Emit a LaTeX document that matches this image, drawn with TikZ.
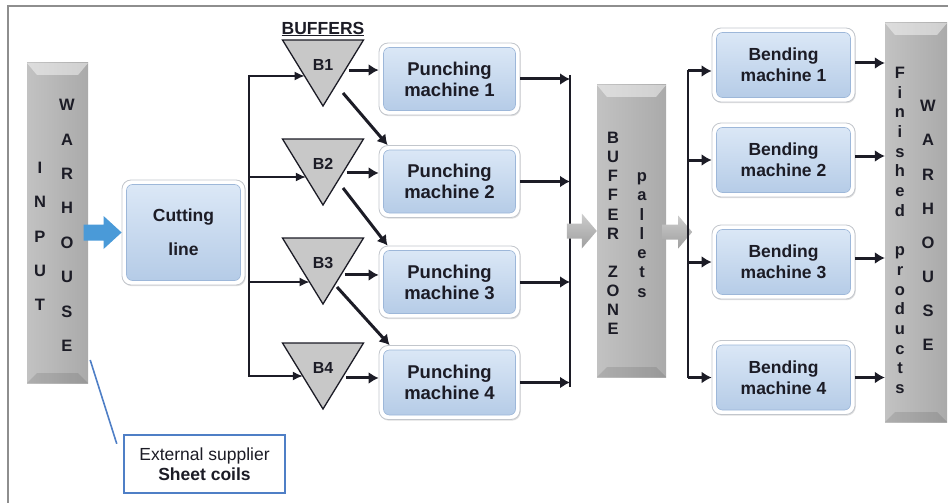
\documentclass[tikz,border=0pt]{standalone}
\usepackage{fontspec}
\setmainfont{Liberation Sans}
\usetikzlibrary{arrows.meta,calc,shadows}

\definecolor{ink}{HTML}{1C1C26}
\definecolor{boxtop}{HTML}{DDE9F7}
\definecolor{boxbot}{HTML}{B3CAE6}
\definecolor{boxedge}{HTML}{9DB7D9}
\definecolor{boxrim}{HTML}{C2C6CC}
\definecolor{flowblue}{HTML}{4A9AD8}
\definecolor{supblue}{HTML}{4F7FC6}
\definecolor{framegray}{HTML}{8E8E8E}
\definecolor{colleft}{HTML}{C2C2C2}
\definecolor{colmid}{HTML}{DCDCDC}
\definecolor{colright}{HTML}{AAAAAA}
\definecolor{trigray}{HTML}{C8C8C8}

\tikzset{
  frameline/.style={draw=framegray, line width=1.6pt},
  machine/.style={rectangle, rounded corners=9pt, draw=boxrim, line width=0.8pt,
    fill=white, inner sep=0pt,
    drop shadow={opacity=0.25, shadow xshift=0.8pt, shadow yshift=-1.2pt},
    path picture={
      \shade[rounded corners=6pt, top color=boxtop, bottom color=boxbot]
        ([shift={(4.5pt,-4.5pt)}]path picture bounding box.north west) rectangle
        ([shift={(-4.5pt,4.5pt)}]path picture bounding box.south east);
      \draw[boxedge, line width=0.6pt, rounded corners=6pt]
        ([shift={(4.5pt,-4.5pt)}]path picture bounding box.north west) rectangle
        ([shift={(-4.5pt,4.5pt)}]path picture bounding box.south east);
    },
    font=\fontsize{17.5pt}{21pt}\selectfont\bfseries, text=ink, align=center},
  punch/.style={machine, font=\fontsize{18.5pt}{21pt}\selectfont\bfseries},
  column/.style={rectangle, inner sep=0pt, left color=colleft, middle color=colmid,
    right color=colright},
  bevtop/.style={fill=white, fill opacity=0.45},
  bevbot/.style={fill=black, fill opacity=0.10},
  colletters/.style={font=\fontsize{16.5pt}{#1pt}\selectfont\bfseries, text=ink,
    align=center, inner sep=0pt},
  buffertri/.style={fill=trigray, draw=ink, line width=1.3pt, line join=miter},
  trilabel/.style={font=\fontsize{16pt}{18pt}\selectfont\bfseries, text=ink, inner sep=0pt},
  feed/.style={draw=ink, line width=1.4pt, -{Latex[length=10pt,width=9pt]}},
  transfer/.style={draw=ink, line width=3pt, -{Latex[length=10pt,width=12pt]}},
  busline/.style={draw=ink, line width=1.4pt},
  blockgray/.style={top color=gray!40, bottom color=gray!75},
  supbox/.style={rectangle, draw=supblue, line width=2.5pt, fill=white, inner sep=0pt,
    font=\fontsize{17.5pt}{20pt}\selectfont, text=ink, align=center},
  supline/.style={draw=supblue, line width=1.6pt}
}

\begin{document}
\begin{tikzpicture}[x=1pt,y=-1pt]
\useasboundingbox (0,0) rectangle (948,503);

% page frame (top and left rules)
\draw[frameline] (948,6) -- (8,6) -- (8,503);

% ---------- warehouse / buffer columns ----------
\node[column, minimum width=61pt, minimum height=320pt] (inw) at (57.5,223) {};
\node[column, minimum width=69pt, minimum height=292pt] (bz) at (631.5,231) {};
\node[column, minimum width=62pt, minimum height=399pt] (fin) at (916,222.5) {};
\foreach \c in {inw,bz,fin}{
  \fill[bevtop] (\c.north west) -- (\c.north east) -- ([shift={(-10pt,-12pt)}]\c.north east)
    -- ([shift={(10pt,-12pt)}]\c.north west) -- cycle;
  \fill[bevbot] (\c.south west) -- (\c.south east) -- ([shift={(-10pt,10pt)}]\c.south east)
    -- ([shift={(10pt,10pt)}]\c.south west) -- cycle;
}
\node[colletters=34.25] (inwA) at (40,236.5) {I\\N\\P\\U\\T};
\node[colletters=34.4] (inwB) at (67,225.5) {W\\A\\R\\H\\O\\U\\S\\E};
\node[colletters=19.1] (bzA) at (613,233.5) {B\\U\\F\\F\\E\\R\\[19.1pt]Z\\O\\N\\E};
\node[colletters=19.3] (bzB) at (642,235) {p\\a\\l\\l\\e\\t\\s};
\node[colletters=19.7] (finA) at (900,230.5) {F\\i\\n\\i\\s\\h\\e\\d\\[19.7pt]p\\r\\o\\d\\u\\c\\t\\s};
\node[colletters=34.1] (finB) at (928,225.5) {W\\A\\R\\H\\O\\U\\S\\E};

% ---------- machines ----------
\node[machine, minimum width=123pt, minimum height=105pt] (cut) at (183.5,232.5) {Cutting\\[13pt]line};

\node[punch, minimum width=141pt, minimum height=72pt] (P1) at (449.5,79) {Punching\\machine 1};
\node[punch, minimum width=141pt, minimum height=72pt] (P2) at (449.5,181.5) {Punching\\machine 2};
\node[punch, minimum width=141pt, minimum height=72pt] (P3) at (449.5,282) {Punching\\machine 3};
\node[punch, minimum width=141pt, minimum height=74pt] (P4) at (449.5,382.5) {Punching\\machine 4};

\node[machine, minimum width=143pt, minimum height=74pt] (M1) at (783.5,65) {Bending\\machine 1};
\node[machine, minimum width=143pt, minimum height=74pt] (M2) at (783.5,160) {Bending\\machine 2};
\node[machine, minimum width=143pt, minimum height=74pt] (M3) at (783.5,262) {Bending\\machine 3};
\node[machine, minimum width=143pt, minimum height=74pt] (M4) at (783.5,377.5) {Bending\\machine 4};

% ---------- buffers ----------
\node[font=\fontsize{17.5pt}{19pt}\selectfont\bfseries, text=ink, inner sep=0pt] (bufhdr) at (323,29) {\underline{BUFFERS}};
\foreach \i/\t in {1/40,2/139,3/238,4/343}{
  \coordinate (tl\i) at (282.5,\t);
  \coordinate (tr\i) at (363.5,\t);
  \coordinate (ta\i) at (323,\t+66);
  \draw[buffertri] (tl\i) -- (tr\i) -- (ta\i) -- cycle;
  \node[trilabel] (B\i) at (323,\t+25) {B\i};
}

% ---------- feed from the cutting line ----------
\coordinate (bus1t) at (249,75);
\coordinate (bus1b) at (249,377);
\draw[busline] (bus1t) -- (bus1b);
\foreach \i/\f in {1/0.545,2/0.576,3/0.667,4/0.5}{
  \coordinate (fe\i) at ($(tl\i)!\f!(ta\i)$);
  \draw[feed] (bus1t |- fe\i) -- (fe\i);
}

% ---------- buffers to punching machines ----------
\foreach \i/\g in {1/0.455,2/0.515,3/0.56,4/0.53}{
  \coordinate (tx\i) at ($(tr\i)!\g!(ta\i)+(4,0)$);
  \draw[transfer] (tx\i) -- (P\i.west |- tx\i);
}
\coordinate (dg1) at (343,93);
\coordinate (dg2) at (343,188);
\coordinate (dg3) at (337,287);
\draw[transfer] (dg1) -- ([xshift=9pt]P2.north west);
\draw[transfer] (dg2) -- ([xshift=9pt]P3.north west);
\draw[transfer] (dg3) -- ([xshift=11pt]P4.north west);

% ---------- punching machines to the buffer zone ----------
\coordinate (bus2t) at (570,75);
\coordinate (bus2b) at (570,387);
\draw[busline] (bus2t) -- (bus2b);
\foreach \i in {1,...,4}{
  \draw[transfer] (P\i.east) -- (bus2t |- P\i.east);
}

% ---------- block arrows ----------
\fill[flowblue] (cut.west) -- ++(-18,-16.5) -- ++(0,8.5) -- ++(-20,0) -- ++(0,16)
  -- ++(20,0) -- ++(0,8.5) -- cycle;
\shade[blockgray] (bz.west) -- ++(-15,-17.5) -- ++(0,10) -- ++(-15,0) -- ++(0,15)
  -- ++(15,0) -- ++(0,10) -- cycle;
\coordinate (ga2tip) at ($(bz.east)+(26,1)$);
\shade[blockgray] (ga2tip) -- ++(-14,-16.5) -- ++(0,9) -- ++(-16,0) -- ++(0,15)
  -- ++(16,0) -- ++(0,9) -- cycle;

% ---------- buffer zone to bending machines ----------
\coordinate (bus3t) at (688,70);
\coordinate (bus3b) at (688,378);
\draw[busline, line width=1.8pt] (bus3t) -- (bus3b);
\coordinate (in1) at ([yshift=-6pt]M1.west);
\draw[transfer] (bus3t |- in1) -- (in1);
\draw[transfer] (bus3t |- M2.west) -- (M2.west);
\draw[transfer] (bus3t |- M3.west) -- (M3.west);
\draw[transfer] (bus3t |- M4.west) -- (M4.west);

% ---------- bending machines to finished products ----------
\coordinate (out1) at ([yshift=2pt]M1.east);
\coordinate (out2) at ([yshift=4pt]M2.east);
\coordinate (out3) at ([yshift=4pt]M3.east);
\coordinate (out4) at (M4.east);
\foreach \i in {1,...,4}{
  \draw[transfer] (out\i) -- (fin.west |- out\i);
}

% ---------- external supplier ----------
\node[supbox, minimum width=161pt, minimum height=58pt] (sup) at (204.5,464)
  {External supplier\\\textbf{Sheet coils}};
\coordinate (supend) at ($(sup.north west)+(-6,10)$);
\draw[supline] ([shift={(2pt,-137pt)}]inw.east) -- (supend);

\end{tikzpicture}
\end{document}
